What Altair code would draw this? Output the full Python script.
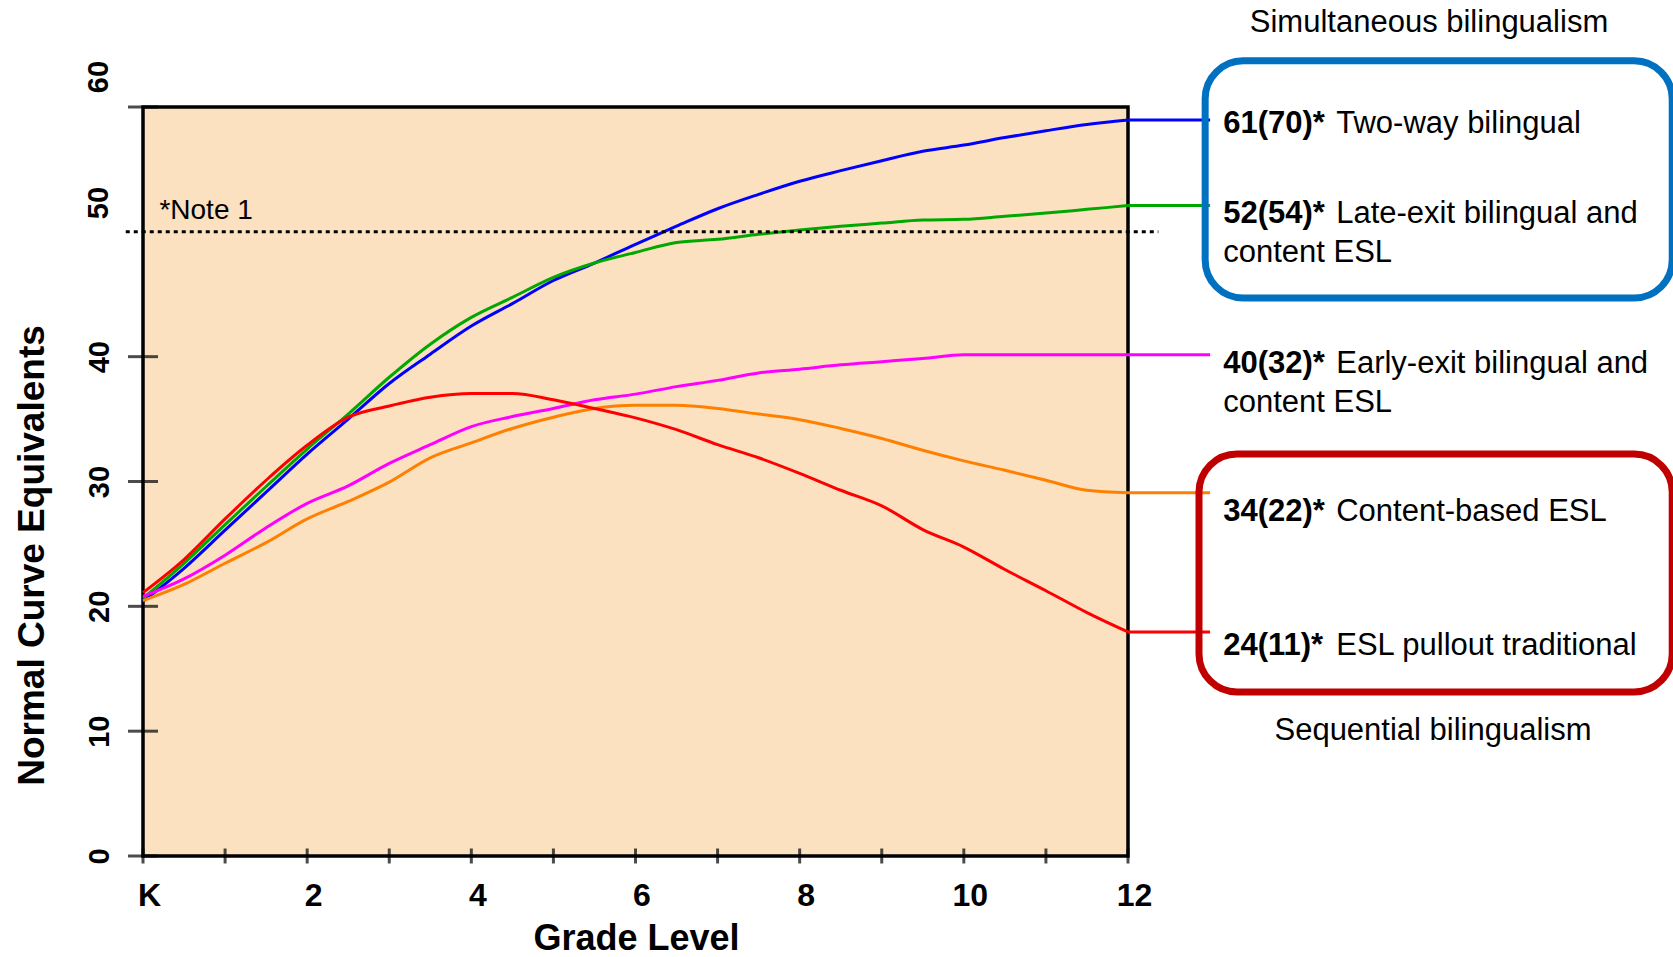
import altair as alt
import pandas as pd

# ---------------- data ----------------
grades = [0, 0.5, 1, 1.5, 2, 2.5, 3, 3.5, 4, 4.5, 5, 5.5, 6, 6.5, 7, 7.5, 8, 8.5, 9, 9.5, 10, 10.5, 11, 11.5, 12]

two_way = [20.4, 23.05, 26.1, 29.15, 32.2, 35.0, 37.85, 40.2, 42.45, 44.25, 46.1, 47.5, 49.0,
           50.45, 51.85, 53.0, 54.05, 54.9, 55.7, 56.45, 56.95, 57.55, 58.1, 58.6, 58.95]
late_exit = [20.65, 23.45, 26.55, 29.6, 32.6, 35.4, 38.35, 41.0, 43.15, 44.75, 46.35, 47.5, 48.35,
             49.15, 49.4, 49.8, 50.15, 50.45, 50.7, 50.95, 51.0, 51.25, 51.5, 51.8, 52.1]
early_exit = [20.8, 22.2, 24.1, 26.3, 28.25, 29.65, 31.45, 32.95, 34.4, 35.2, 35.85, 36.55, 37.0,
              37.6, 38.1, 38.7, 39.0, 39.35, 39.6, 39.85, 40.15, 40.15, 40.15, 40.15, 40.15]
content_esl = [20.45, 21.75, 23.45, 25.1, 27.0, 28.4, 29.95, 31.9, 33.1, 34.25, 35.15, 35.85, 36.1,
               36.1, 35.85, 35.4, 34.95, 34.25, 33.45, 32.5, 31.65, 30.9, 30.1, 29.3, 29.1]
pullout = [21.1, 23.75, 27.0, 30.1, 32.9, 35.15, 36.05, 36.75, 37.05, 37.05, 36.55, 35.85, 35.1,
           34.15, 32.95, 31.9, 30.65, 29.3, 28.05, 26.15, 24.75, 22.95, 21.25, 19.5, 17.95]

series_names = ["Two-way bilingual", "Late-exit bilingual", "Early-exit bilingual",
                "Content-based ESL", "ESL pullout traditional"]
series_values = [two_way, late_exit, early_exit, content_esl, pullout]

label_prefix = ["61(70)*", "52(54)*", "40(32)*", "34(22)*", "24(11)*"]
label_line1 = ["Two-way bilingual", "Late-exit bilingual and", "Early-exit bilingual and",
               "Content-based ESL", "ESL pullout traditional"]
label_line2 = ["content ESL", "content ESL"]

group_titles = ["Simultaneous bilingualism", "Sequential bilingualism"]
note_text = ["*Note 1"]
reference_level = 50

x_tick_values = list(range(0, 13))
x_label_values = [0, 2, 4, 6, 8, 10, 12]
y_tick_values = [0, 10, 20, 30, 40, 60]
y_label_values = [0, 10, 20, 30, 40]
y_upper_labels = ["50", "60"]          # drawn a little above their ticks in the reference

# ---------------- layout / style ----------------
FONT = "Liberation Sans, Arial, Helvetica, sans-serif"
colors = ["#0000FF", "#00A800", "#FF00FF", "#FF8000", "#FF0000"]
W, H = 985, 749
PAD = {"left": 143, "top": 107, "right": 545, "bottom": 101}

LEADER_END = 13.0
LABEL_X = 13.16
label_baseline = [57.92, 50.71, 38.69, 26.84, 16.10]
line2_baseline = [47.58, 35.57]
group_x = [15.667, 15.716]
group_y = [66.0, 9.29]
note_x, note_y = 0.2, 51.06
dotted_x = [-0.21, 12.37]
upper_label_x = -0.426
upper_label_y = [52.3, 62.4]
box_x0 = [12.94, 12.865]
box_x1 = [18.63, 18.63]
box_y0 = [63.7, 32.2]
box_y1 = [44.7, 13.14]
box_colors = ["#0070C0", "#C00000"]

# ---------------- tables ----------------
rows = []
for name, vals in zip(series_names, series_values):
    for g, v in zip(grades, vals):
        rows.append({"series": name, "grade": g, "nce": v})
df = pd.DataFrame(rows)

leader_rows = []
for name, vals in zip(series_names, series_values):
    leader_rows.append({"series": name, "grade": 12, "nce": vals[-1]})
    leader_rows.append({"series": name, "grade": LEADER_END, "nce": vals[-1]})
leader_df = pd.DataFrame(leader_rows)

prefix_df = pd.DataFrame({"text": label_prefix, "grade": LABEL_X, "nce": label_baseline})
line1_df = pd.DataFrame({"text": label_line1, "grade": LABEL_X, "nce": label_baseline})
line2_df = pd.DataFrame({"text": label_line2, "grade": LABEL_X, "nce": line2_baseline})
group_df = pd.DataFrame({"text": group_titles, "grade": group_x, "nce": group_y})
note_df = pd.DataFrame({"text": note_text, "grade": [note_x], "nce": [note_y]})
upper_df = pd.DataFrame({"text": y_upper_labels, "grade": upper_label_x, "nce": upper_label_y})
dotted_df = pd.DataFrame({"grade": [dotted_x[0]], "g1": [dotted_x[1]], "nce": [reference_level]})
box_df = pd.DataFrame({"grade": box_x0, "b1": box_x1, "nce": box_y0, "c1": box_y1, "col": box_colors})
xt_df = pd.DataFrame({"grade": x_tick_values})
yt_df = pd.DataFrame({"nce": y_tick_values})

x_scale = alt.Scale(domain=[0, 12], nice=False, zero=False)
y_scale = alt.Scale(domain=[0, 60], nice=False, zero=False)
color = alt.Color("series:N", scale=alt.Scale(domain=series_names, range=colors), legend=None)

x_axis = alt.Axis(
    values=x_label_values, format="d", labelExpr="datum.value == 0 ? 'K' : datum.label",
    ticks=False, domain=False, grid=False, labelAngle=0, labelBaseline="alphabetic",
    labelPadding=49, labelFontSize=32, labelFontWeight="bold", labelFont=FONT,
    labelColor="black", labelFlush=False, labelOffset=6, labelOverlap=False,
    title="Grade Level", titleFontSize=36, titleFontWeight="bold", titleFont=FONT,
    titleColor="black", titleX=493, titleY=93, titleBaseline="alphabetic", titleAlign="center",
)
y_axis = alt.Axis(
    values=y_label_values, format="d", ticks=False, domain=False, grid=False,
    labelAngle=270, labelAlign="center", labelBaseline="alphabetic", labelPadding=35,
    labelFontSize=29, labelFontWeight="bold", labelFont=FONT, labelColor="black",
    labelFlush=False, labelOverlap=False,
    title="Normal Curve Equivalents", titleFontSize=37, titleFontWeight="bold", titleFont=FONT,
    titleColor="black", titleAngle=270, titleAlign="center", titleBaseline="alphabetic",
    titleX=-100, titleY=448,
)

lines = alt.Chart(df).mark_line(strokeWidth=3, interpolate="monotone").encode(
    x=alt.X("grade:Q", scale=x_scale, axis=x_axis),
    y=alt.Y("nce:Q", scale=y_scale, axis=y_axis),
    color=color,
)

leaders = alt.Chart(leader_df).mark_line(strokeWidth=3).encode(
    x=alt.X("grade:Q", scale=x_scale),
    y=alt.Y("nce:Q", scale=y_scale),
    color=color,
)

dotted = alt.Chart(dotted_df).mark_rule(color="black", strokeWidth=3, strokeDash=[4, 4]).encode(
    x=alt.X("grade:Q", scale=x_scale),
    x2="g1:Q",
    y=alt.Y("nce:Q", scale=y_scale),
)

x_ticks = alt.Chart(xt_df).mark_tick(orient="vertical", size=15, thickness=3, color="black").encode(
    x=alt.X("grade:Q", scale=x_scale),
    y=alt.Y(datum=0, scale=y_scale),
)
y_ticks = alt.Chart(yt_df).mark_tick(orient="horizontal", size=30, thickness=3, color="black").encode(
    y=alt.Y("nce:Q", scale=y_scale),
    x=alt.X(datum=0, scale=x_scale),
)

boxes = alt.Chart(box_df).mark_rect(filled=False, strokeWidth=7, cornerRadius=38, fillOpacity=0).encode(
    x=alt.X("grade:Q", scale=x_scale),
    x2="b1:Q",
    y=alt.Y("nce:Q", scale=y_scale),
    y2="c1:Q",
    stroke=alt.Stroke("col:N", scale=None),
)

def text_layer(data, weight="normal", align="left", size=31, dx=0, angle=0):
    return alt.Chart(data).mark_text(
        align=align, baseline="alphabetic", fontSize=size, fontWeight=weight,
        font=FONT, color="black", dx=dx, angle=angle,
    ).encode(
        x=alt.X("grade:Q", scale=x_scale),
        y=alt.Y("nce:Q", scale=y_scale),
        text="text:N",
    )

prefix_text = text_layer(prefix_df, weight="bold")
line1_text = text_layer(line1_df, dx=113)
line2_text = text_layer(line2_df)
group_text = text_layer(group_df, align="center")
note = text_layer(note_df, size=28)
upper_labels = text_layer(upper_df, weight="bold", align="center", size=29, angle=270)

chart = alt.layer(
    lines, dotted, leaders, x_ticks, y_ticks, boxes,
    prefix_text, line1_text, line2_text, group_text, note, upper_labels,
).properties(
    width=W, height=H, padding=PAD,
    autosize=alt.AutoSizeParams(type="none"),
    background="white",
).configure(
    font=FONT,
    view=alt.ViewConfig(fill="#FBE1C0", stroke="black", strokeWidth=3.5),
)

chart.save("out.html", embed_options={"renderer": "svg", "actions": False})
